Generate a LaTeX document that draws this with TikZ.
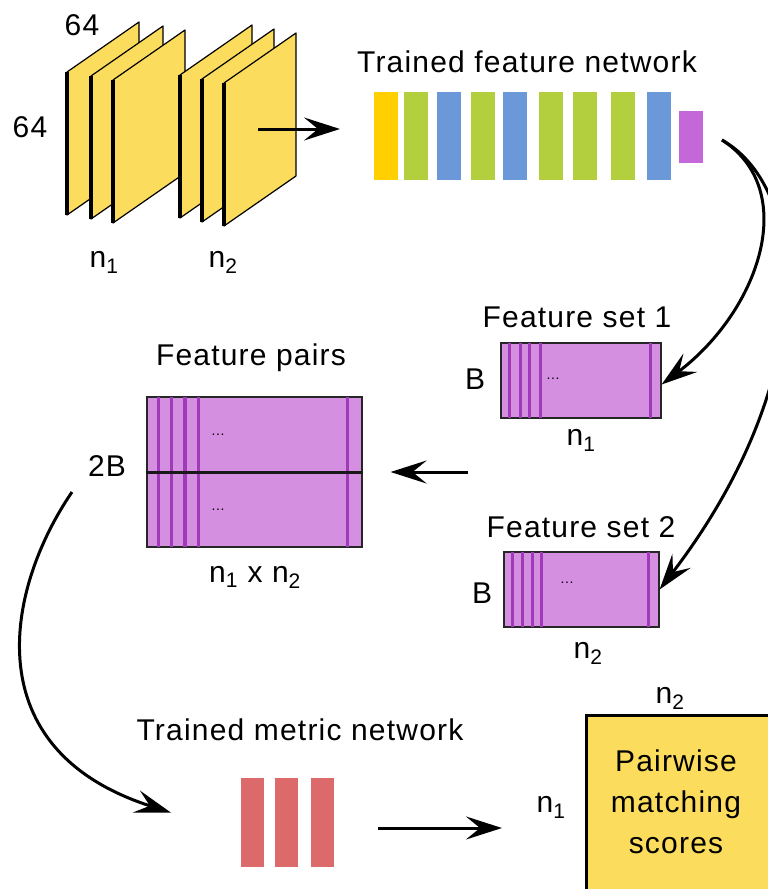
\documentclass[tikz,border=0pt]{standalone}
\usepackage{fontspec}
\setmainfont{Liberation Sans}[LetterSpace=4]
\usetikzlibrary{arrows.meta,positioning}
\definecolor{patchyellow}{HTML}{FCDC5C}
\definecolor{netyellow}{HTML}{FFCF00}
\definecolor{netgreen}{HTML}{B4CF3E}
\definecolor{netblue}{HTML}{6A98D9}
\definecolor{netpurple}{HTML}{C467D8}
\definecolor{setfill}{HTML}{D48FE0}
\definecolor{setline}{HTML}{A03AB8}
\definecolor{metricred}{HTML}{DC6A6A}
\begin{document}
\begin{tikzpicture}[
  x=1pt,y=-1pt,
  every node/.style={font=\fontsize{30}{32}\selectfont,inner sep=0pt},
  bar/.style={minimum width=24pt,minimum height=88pt},
  fset/.style={draw=black!85,line width=1.2pt,fill=setfill},
  fline/.style={setline,line width=3pt},
  patch/.style={fill=patchyellow,draw=black,line width=1.2pt,line join=round},
  link/.style={line width=3pt,-{Stealth[length=36pt,width=23pt,inset=14pt]}},
  ]
  \clip (0,0) rectangle (768,889);
  \fill[white] (0,0) rectangle (768,889);

  \foreach \x/\y in {67/72,91/76,113/80,180/75,202/79,224/83}{
    \filldraw[patch] (\x,\y) -- ++(72,-50) -- ++(0,143) -- ++(-72,50) -- cycle;
    \draw[line width=4pt] (\x,\y) -- ++(0,143);
  }
  \node (s64a) at (82,25) {64};
  \node (s64b) at (30,127) {64};
  \node (pn1) at (104,262) {n\textsubscript{1}};
  \node (pn2) at (223,262) {n\textsubscript{2}};
  \coordinate (pout) at (258,129);
  \coordinate (nin) at (340,129);
  \draw[link] (pout) -- (nin);

  \node (fnet) at (527,62) {Trained feature network};
  \foreach \c/\x [count=\i] in {netyellow/386,netgreen/416,netblue/449,netgreen/483,
      netblue/515,netgreen/551,netgreen/585,netgreen/623,netblue/659}
    \node[bar,fill=\c] (fb\i) at (\x,136) {};
  \node[bar,fill=netpurple,minimum height=52pt] (fbo) at (691,137) {};
  \coordinate (fout) at (722,140);

  \node[fset,minimum width=160pt,minimum height=75pt] (fs1) at (581,380.5) {};
  \foreach \d in {9,20,29,40,150}
    \draw[fline] ([xshift=\d pt]fs1.north west) -- ([xshift=\d pt]fs1.south west);
  \draw[black!85,line width=1.2pt] (fs1.north west) rectangle (fs1.south east);
  \node (fs1t) at (577,317) {Feature set 1};
  \node (fs1b) at (475,379) {B};
  \node (fs1n) at (581,440) {n\textsubscript{1}};
  \node[font=\fontsize{14}{14}\selectfont] (fs1d) at (553,379) {...};

  \node[fset,minimum width=155pt,minimum height=75pt] (fs2) at (581.5,589.5) {};
  \foreach \d in {9,19,29,38,145}
    \draw[fline] ([xshift=\d pt]fs2.north west) -- ([xshift=\d pt]fs2.south west);
  \draw[black!85,line width=1.2pt] (fs2.north west) rectangle (fs2.south east);
  \node (fs2t) at (581,527) {Feature set 2};
  \node (fs2b) at (482,593) {B};
  \node (fs2n) at (588,653) {n\textsubscript{2}};
  \node[font=\fontsize{14}{14}\selectfont] (fs2d) at (567,583) {...};

  \node[fset,minimum width=215pt,minimum height=150pt] (fp) at (254.5,472) {};
  \foreach \d/\w in {12/2.5,25/3,39/4,52/3,201/3}
    \draw[fline,line width=\w pt] ([xshift=\d pt]fp.north west) -- ([xshift=\d pt]fp.south west);
  \draw[black!85,line width=1.2pt] (fp.north west) rectangle (fp.south east);
  \draw[line width=3pt,black!90] (fp.west) -- (fp.east);
  \node (fpt) at (251,358) {Feature pairs};
  \node (fpb) at (107,466) {2B};
  \node (fpn) at (255,577) {n\textsubscript{1} x n\textsubscript{2}};
  \node[font=\fontsize{14}{14}\selectfont] (fpd1) at (218,435) {...};
  \node[font=\fontsize{14}{14}\selectfont] (fpd2) at (218,510) {...};
  \coordinate (pin) at (468,472);
  \draw[link] (pin) -- ([xshift=28pt]fp.east);

  \draw[link] (fout) .. controls (800,190) and (760,310) .. ([yshift=-4pt]fs1.east);
  \draw[link] (fout) .. controls (810,190) and (820,380) .. (fs2.east);

  \node (mnet) at (300,730) {Trained metric network};
  \foreach \x [count=\i] in {252.5,286.5,322.5}
    \node[bar,fill=metricred,minimum width=23pt,minimum height=89pt] (mb\i) at (\x,822.5) {};
  \coordinate (mtail) at (72,492);
  \draw[link] (mtail) .. controls (5,590) and (-25,750) .. ([xshift=-70pt,yshift=10pt]mb1.west);
  \coordinate (mout) at (378,828);
  \coordinate (pmin) at (502,828);
  \draw[link] (mout) -- (pmin);

  \node[anchor=north west,fill=patchyellow,minimum width=250pt,minimum height=250pt] (pm) at (586,715) {};
  \draw[line width=3pt] (pm.south west) -- (pm.north west) -- (pm.north east);
  \node[align=center,font=\fontsize{30}{41}\selectfont] (pmt) at (676,802) {Pairwise\\matching\\scores};
  \node (pmn2) at (670,698) {n\textsubscript{2}};
  \node (pmn1) at (551,807) {n\textsubscript{1}};
\end{tikzpicture}
\end{document}
